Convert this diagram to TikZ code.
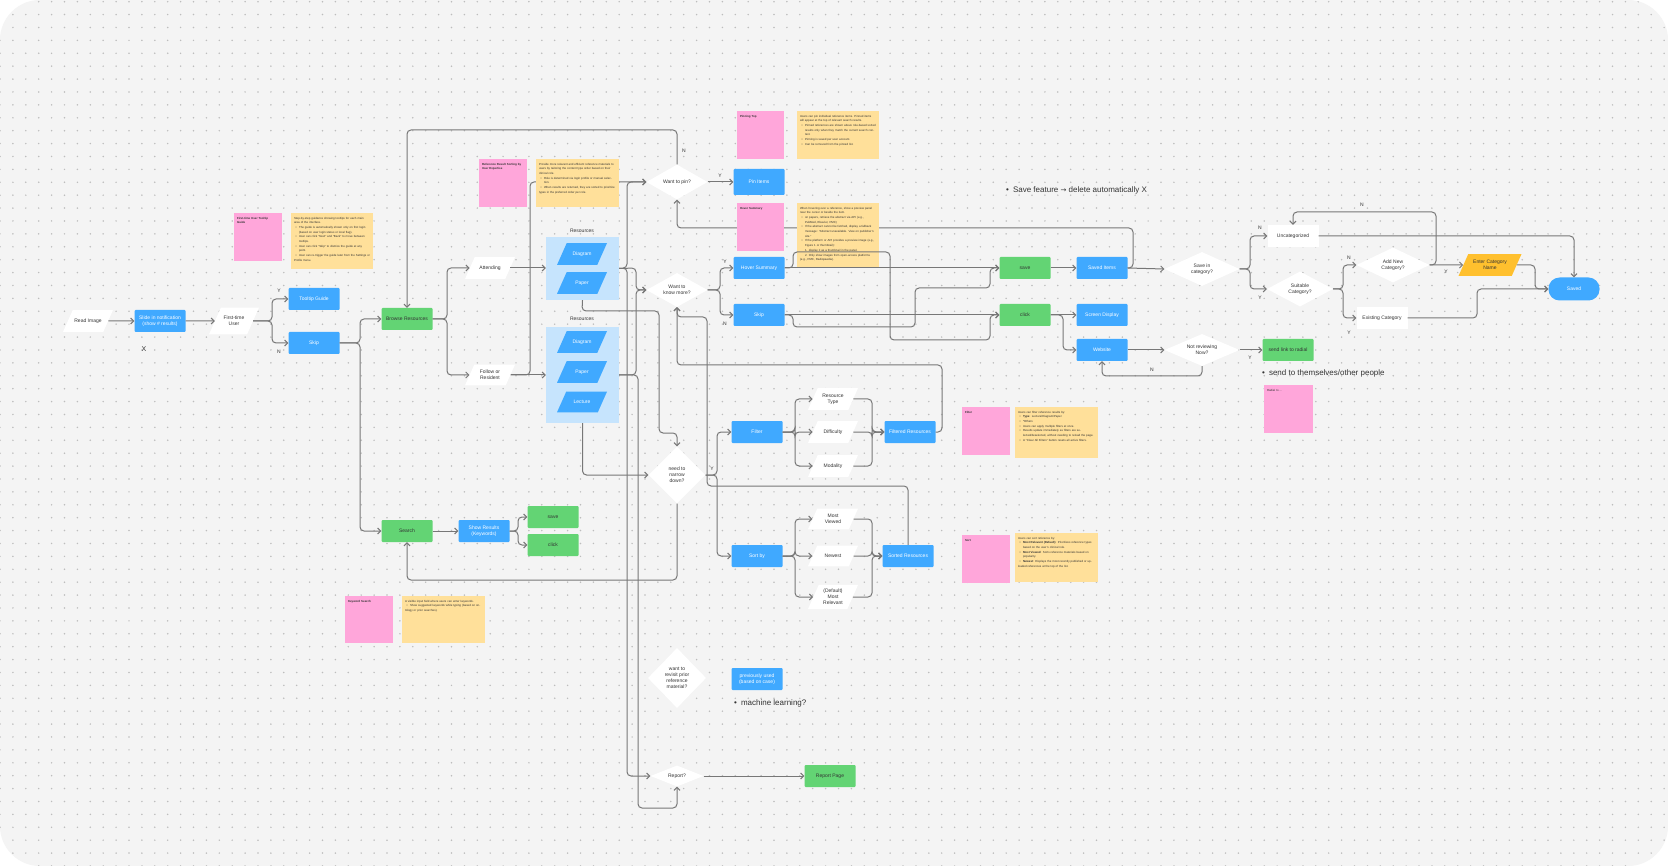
\documentclass[tikz,border=0pt]{standalone}
\usepackage{fontspec}
\setmainfont{Liberation Sans}
\newfontfamily\dejavu{DejaVu Sans}
\usetikzlibrary{shapes.geometric,arrows.meta,patterns.meta,calc}
\definecolor{cBg}{HTML}{F4F4F4}
\definecolor{cDot}{HTML}{BDBDBD}
\definecolor{cBlue}{HTML}{40A9FF}
\definecolor{cGreen}{HTML}{63D474}
\definecolor{cLB}{HTML}{C6E4FD}
\definecolor{cPink}{HTML}{FFA6DA}
\definecolor{cYel}{HTML}{FFE09A}
\definecolor{cOrange}{HTML}{FFC02E}
\definecolor{cLine}{HTML}{777777}
\definecolor{cTxt}{HTML}{333333}
\newcommand\lbl{\fontsize{5}{6}\selectfont}
\newcommand\stk{\fontsize{2.9}{4.7}\selectfont}
\newcommand\stkb{\fontsize{2.9}{4.2}\selectfont\bfseries}
\newcommand\bigtxt{\fontsize{8}{9.5}\selectfont}
\newcommand\bitem[1]{\par\hangindent=5pt\hangafter=1\hspace*{1.5pt}\makebox[3.5pt][l]{•}#1}
\tikzset{
  base/.style={minimum width=51, minimum height=22, inner sep=1, align=center, font=\lbl},
  bluebox/.style={base, fill=cBlue, text=white, rounded corners=1},
  greenbox/.style={base, fill=cGreen, text=cTxt, rounded corners=1},
  whitebox/.style={base, fill=white, text=cTxt},
  para/.style={trapezium, trapezium left angle=66, trapezium right angle=114, trapezium stretches body,
     minimum width=50, inner xsep=0, inner ysep=8.6, fill=white, align=center, font=\lbl, text=cTxt},
  twoline/.style={inner ysep=5.6},
  bluepara/.style={para, fill=cBlue, text=white},
  dia/.style={diamond, aspect=1.8, fill=white, inner sep=0, align=center, font=\lbl, text=cTxt},
  grp/.style={fill=cLB, inner sep=0},
  conn/.style={draw=cLine, line width=1, rounded corners=4, -{Straight Barb[length=3pt,width=6pt]}},
  yn/.style={font=\lbl, text=cTxt},
  pinkn/.style={fill=cPink, inner sep=0, minimum width=48, minimum height=48},
  yeln/.style={fill=cYel, inner sep=0},
  stktitle/.style={anchor=north west, font=\stkb, text=cTxt, text width=40, align=left, inner sep=0},
  stktext/.style={anchor=north west, font=\stk, text=cTxt, align=left, inner sep=0,
     execute at begin node=\setlength{\parindent}{0pt}},
}
\begin{document}
\begin{tikzpicture}[x=1pt,y=-1pt]
\useasboundingbox (0,0) rectangle (1668,866);
\fill[white] (0,0) rectangle (1668,866);
\fill[cBg, rounded corners=40] (0,0) rectangle (1668,866);
\fill[pattern={Dots[radius=0.85pt,distance=12.9pt]}, pattern color=cDot, rounded corners=40] (0,0) rectangle (1668,866);

% ---------- nodes ----------
\node[para] (readimg) at (88,321) {Read Image};
\node[bluebox] (slidein) at (160,321) {Slide in notification\\(show \# results)};
\node[font=\fontsize{7}{8}\selectfont, text=cTxt] (xmark) at (144,349) {X};
\node[para, inner ysep=8.6] (firsttime) at (234,321) {First-time\\User};
\node[bluebox] (tooltip) at (314,299) {Tooltip Guide};
\node[bluebox] (skip1) at (314,343) {Skip};
\node[greenbox] (browse) at (407,319) {Browse Resources};
\node[para] (attending) at (490,268) {Attending};
\node[para, twoline] (follow) at (490,375) {Follow or\\Resident};

\node[grp, minimum width=73, minimum height=63] (g1) at (582.5,268.5) {};
\node[font=\lbl, text=cTxt] (g1lab) at (582,231) {Resources};
\node[bluepara] (g1d) at (582,254) {Diagram};
\node[bluepara] (g1p) at (582,283) {Paper};
\node[grp, minimum width=73, minimum height=96] (g2) at (582.5,375) {};
\node[font=\lbl, text=cTxt] (g2lab) at (582,319) {Resources};
\node[bluepara] (g2d) at (582,342) {Diagram};
\node[bluepara] (g2p) at (582,372) {Paper};
\node[bluepara] (g2l) at (582,402) {Lecture};

\node[dia, minimum width=61, minimum height=35] (pin) at (677,182) {Want to pin?};
\node[bluebox, minimum height=26] (pinitems) at (759,182) {Pin Items};
\node[dia, minimum width=61, minimum height=34] (know) at (677,290) {Want to\\know more?};
\node[bluebox] (hover) at (759,268) {Hover Summary};
\node[bluebox] (skip2) at (759,315) {Skip};

\node[dia, aspect=1, minimum width=57, minimum height=57] (narrow) at (677,475) {need to\\narrow\\down?};
\node[bluebox] (filter) at (757,432) {Filter};
\node[para, twoline] (restype) at (833,399) {Resource\\Type};
\node[para] (diff) at (833,432) {Difficulty};
\node[para] (modal) at (833,466) {Modality};
\node[bluebox] (filtered) at (910,432) {Filtered Resources};
\node[bluebox] (sortby) at (757,556) {Sort by};
\node[para, twoline] (mostviewed) at (833,519) {Most\\Viewed};
\node[para] (newest) at (833,556) {Newest};
\node[para, inner ysep=4.2] (mostrel) at (833,597) {(Default)\\Most\\Relevant};
\node[bluebox] (sorted) at (908,556) {Sorted Resources};

\node[greenbox] (search) at (407,531) {Search};
\node[bluebox] (showres) at (484,531) {Show Results\\(Keywords)};
\node[greenbox] (save2) at (553,517) {save};
\node[greenbox] (click2) at (553,545) {click};

\node[dia, aspect=1, minimum width=58, minimum height=60] (revisit) at (677,678) {want to\\revisit prior\\reference\\material?};
\node[bluebox] (prevused) at (757,679) {previously used\\(based on case)};
\node[anchor=west, font=\bigtxt, text=cTxt, inner sep=0] (ml) at (734,703) {•\hspace{4pt}machine learning?};
\node[dia, aspect=2.5, minimum width=53, minimum height=21] (report) at (677,776) {Report?};
\node[greenbox] (reportpage) at (830,776) {Report Page};

\node[greenbox] (save) at (1025,268) {save};
\node[greenbox] (click) at (1025,315) {click};
\node[bluebox] (saveditems) at (1102,268) {Saved Items};
\node[bluebox] (screen) at (1102,315) {Screen Display};
\node[bluebox] (website) at (1102,350) {Website};
\node[dia, aspect=2, minimum width=75, minimum height=34] (savecat) at (1202,269) {Save in\\category?};
\node[dia, aspect=2, minimum width=75, minimum height=32] (notrev) at (1202,350) {Not reviewing\\Now?};
\node[greenbox] (sendlink) at (1288,350) {send link to radial};
\node[whitebox] (uncat) at (1293,236) {Uncategorized};
\node[dia, aspect=1.8, minimum width=66, minimum height=35] (suitable) at (1300,289) {Suitable\\Category?};
\node[dia, aspect=1.8, minimum width=73, minimum height=35] (addnew) at (1393,265) {Add New\\Category?};
\node[whitebox] (existing) at (1382,318) {Existing Category};
\node[para, fill=cOrange, minimum width=63, inner ysep=6.2] (entercat) at (1490,265) {Enter Category\\Name};
\node[base, fill=cBlue, text=white, rounded corners=11, minimum height=23] (saved) at (1574,289) {Saved};

\node[anchor=west, font=\bigtxt, text=cTxt, inner sep=0] (savefeat) at (1006,190) {•\hspace{4pt}Save feature {\dejavu\fontsize{7}{8}\selectfont →} delete automatically X};
\node[anchor=west, font=\bigtxt, text=cTxt, inner sep=0] (sendto) at (1262,373) {•\hspace{4pt}send to themselves/other people};

% ---------- connectors drawn behind stickies ----------
\draw[conn] (follow.east) -- (530,375) -- (530,182) -- (pin.west);
\draw[conn] (saveditems.east) -- (1133,268) -- (1133,228) -| (pin.south);

% ---------- sticky notes ----------
\node[pinkn] (s1p) at (258,237) {};
\node[stktitle] at ([shift={(3,4)}]s1p.north west) {First-time User Tooltip Guide};
\node[yeln, minimum width=82, minimum height=56] (s1y) at (332,241) {};
\node[stktext, text width=76] at ([shift={(3,4)}]s1y.north west) {Step-by-step guidance showing tooltips for each main area of the interface.
\bitem{The guide is automatically shown only on first login (based on user login status or local flag).}
\bitem{User can click "Next" and "Back" to move between tooltips.}
\bitem{User can click "Skip" to dismiss the guide at any point.}
\bitem{User can re-trigger the guide later from the Settings or Profile menu.}};

\node[pinkn] (s2p) at (503,183) {};
\node[stktitle] at ([shift={(3,4)}]s2p.north west) {Reference Result Sorting by User Expertise};
\node[yeln, minimum width=83, minimum height=48] (s2y) at (577.5,183) {};
\node[stktext, text width=77] at ([shift={(3,4)}]s2y.north west) {Provide more relevant and efficient reference materials to users by tailoring the content type order based on their clinical role.
\bitem{Role is determined via login profile or manual selection.}
\bitem{When results are returned, they are sorted to prioritize types in the preferred order per role.}};

\node[pinkn, minimum width=47] (s3p) at (760.5,135) {};
\node[stktitle] at ([shift={(3,4)}]s3p.north west) {Pinning Top};
\node[yeln, minimum width=82, minimum height=48] (s3y) at (838,135) {};
\node[stktext, text width=76] at ([shift={(3,4)}]s3y.north west) {Users can pin individual reference items. Pinned items will appear at the top of relevant search results.
\bitem{Pinned references are shown above role-based sorted results only when they match the current search context.}
\bitem{Pinning is saved per user account.}
\bitem{Can be removed from the pinned list.}};

\node[pinkn, minimum width=47] (s4p) at (760.5,227) {};
\node[stktitle] at ([shift={(3,4)}]s4p.north west) {Hover Summary};
\node[yeln, minimum width=82, minimum height=64] (s4y) at (838,235) {};
\node[stktext, text width=76] at ([shift={(3,4)}]s4y.north west) {When hovering over a reference, show a preview panel near the cursor or beside the item.
\bitem{on papers, retrieve the abstract via API (e.g., PubMed, Elsevier, PMC)}
\bitem{If the abstract cannot be fetched, display a fallback message: "Abstract unavailable. View on publisher's site."}
\bitem{If the platform or API provides a preview image (e.g., Figure 1 or thumbnail):}
\par\hspace*{5pt}1. display it as a thumbnail in the panel.
\par\hangindent=5pt\hangafter=1\hspace*{5pt}2. Only show images from open-access platforms (e.g., PMC, Radiopaedia).};

\node[pinkn] (s5p) at (986,431) {};
\node[stktitle] at ([shift={(3,4)}]s5p.north west) {Filter};
\node[yeln, minimum width=83, minimum height=51] (s5y) at (1056.5,432.5) {};
\node[stktext, text width=77] at ([shift={(3,4)}]s5y.north west) {Users can filter reference results by:
\bitem{\textbf{Type}: Lecture/Diagram/Paper}
\bitem{*Others}
\bitem{Users can apply multiple filters at once.}
\bitem{Results update immediately as filters are selected/deselected, without needing to reload the page.}
\bitem{A "Clear All Filters" button resets all active filters.}};

\node[pinkn] (s6p) at (986,559) {};
\node[stktitle] at ([shift={(3,4)}]s6p.north west) {Sort};
\node[yeln, minimum width=83, minimum height=49] (s6y) at (1056.5,557.5) {};
\node[stktext, text width=77] at ([shift={(3,4)}]s6y.north west) {Users can sort reference by:
\bitem{\textbf{Most Relevant (Default)}: Prioritizes reference types based on the user's clinical role.}
\bitem{\textbf{Most Viewed}: Sorts reference materials based on popularity.}
\bitem{\textbf{Newest}: Displays the most recently published or uploaded references at the top of the list.}};

\node[pinkn, minimum height=47] (s7p) at (369,619.5) {};
\node[stktitle] at ([shift={(3,4)}]s7p.north west) {Keyword Search};
\node[yeln, minimum width=83, minimum height=47] (s7y) at (443.5,619.5) {};
\node[stktext, text width=77] at ([shift={(3,4)}]s7y.north west) {A visible input field where users can enter keywords.
\bitem{Show suggested keywords while typing (based on ontology or prior searches).}};

\node[pinkn, minimum width=49] (s8p) at (1288.5,409) {};
\node[stktitle] at ([shift={(3,4)}]s8p.north west) {\mdseries Radial to ...};

% ---------- connectors ----------
\draw[conn] (readimg.east) -- (slidein.west);
\draw[conn] (slidein.east) -- (firsttime.west);
\draw[conn] (firsttime.east) -- (272,321) |- (tooltip.west);
\draw[conn] (firsttime.east) -- (272,321) |- (skip1.west);
\node[yn] (ly1) at (279,291) {Y};
\node[yn] (ln1) at (279,352) {N};
\draw[conn] (skip1.east) -- (360,343) |- (browse.west);
\draw[conn] (skip1.east) -- (360,343) |- (search.west);
\draw[conn] (browse.east) -- (447,319) |- (attending.west);
\draw[conn] (browse.east) -- (447,319) |- (follow.west);
\draw[conn] (attending.east) -- (attending.east -| g1.west);
\draw[conn] (follow.east) -- (follow.east -| g2.west);

\draw[conn] (g1.east) -- (627,268) |- (pin.west);
\draw[conn] (g1.east) -- (636,268) |- (know.west);
\draw[conn] (g2.east) -- (636,375) |- (know.west);
\draw[conn] (g1.east) -- (627,268) |- (report.west);
\draw[conn] (g2.east) -- (638,375) -- (638,808) -| (report.south);
\draw[conn] (g1.south) -- (582,311) -- (659,311) -- (659,433) -- (677,433) -- (narrow.north);
\draw[conn] (g2.south) |- (narrow.west);

\draw[conn] (pin.east) -- (pinitems.west);
\node[yn] (ly2) at (720,176) {Y};
\draw[conn] (pin.north) -- (677,130) -| (browse.north);
\node[yn] (ln2) at (684,151) {N};

\draw[conn] (know.east) -- (720,290) |- (hover.west);
\draw[conn] (know.east) -- (720,290) |- (skip2.west);
\node[yn] (ly3) at (725,262) {Y};
\node[yn] (ln3) at (725,324) {N};

\draw[conn] (hover.east) -- (save.west);
\draw[conn] (hover.east) -- (793,268) -- (793,252) -- (890,252) -- (890,340) -- (990,340) |- (click.west);
\draw[conn] (skip2.east) -- (click.west);
\draw[conn] (skip2.east) -- (793,315) -- (793,327) -- (915,327) -- (915,288) -- (990,288) |- (save.west);

\draw[conn] (save.east) -- (saveditems.west);
\draw[conn] (click.east) -- (screen.west);
\draw[conn] (click.east) -- (1063,315) |- (website.west);
\draw[conn] (saveditems.east) -- (savecat.west);
\draw[conn] (website.east) -- (notrev.west);
\draw[conn] (notrev.east) -- (sendlink.west);
\node[yn] (ly4) at (1250,358) {Y};
\draw[conn] (notrev.south) -- (1202,376) -| (website.south);
\node[yn] (ln4) at (1152,370) {N};

\draw[conn] (savecat.east) -- (1250,269) |- (uncat.west);
\draw[conn] (savecat.east) -- (1250,269) |- (suitable.west);
\node[yn] (ln5) at (1260,228) {N};
\node[yn] (ly5) at (1260,298) {Y};
\draw[conn] (suitable.east) -- (1343,289) |- (addnew.west);
\draw[conn] (suitable.east) -- (1343,289) |- (existing.west);
\node[yn] (ln6) at (1349,258) {N};
\node[yn] (ly6) at (1349,333) {Y};
\draw[conn] (addnew.east) -- (entercat.west);
\node[yn] (ly7) at (1446,272) {Y};
\draw[conn] (addnew.east) -- (1436,265) -- (1436,212) -| (uncat.north);
\node[yn] (ln7) at (1362,205) {N};
\draw[conn] (uncat.east) -| (saved.north);
\draw[conn] (entercat.east) -- (1535,265) |- (saved.west);
\draw[conn] (existing.east) -- (1477,318) |- (saved.west);

\draw[conn] (filtered.east) -- (942,432) -- (942,365) -| (know.south);
\draw[conn] (sorted.north) -- (908,486) -- (707,486) -- (707,317) -| (know.south);
\draw[conn] (narrow.east) -- (717,475) |- (filter.west);
\draw[conn] (narrow.east) -- (717,475) |- (sortby.west);
\node[yn] (ly8) at (712,469) {Y};
\draw[conn] (narrow.south) -- (677,580) -| (search.south);

\foreach \t in {restype,diff,modal}{\draw[conn] (filter.east) -- (795,432) |- (\t.west);}
\foreach \t in {restype,diff,modal}{\draw[conn] (\t.east) -| (872,432) -- (filtered.west);}
\foreach \t in {mostviewed,newest,mostrel}{\draw[conn] (sortby.east) -- (795,556) |- (\t.west);}
\foreach \t in {mostviewed,newest,mostrel}{\draw[conn] (\t.east) -| (872,556) -- (sorted.west);}

\draw[conn] (search.east) -- (showres.west);
\draw[conn] (showres.east) -- (518,531) |- (save2.west);
\draw[conn] (showres.east) -- (518,531) |- (click2.west);
\draw[conn] (report.east) -- (reportpage.west);
\end{tikzpicture}
\end{document}
